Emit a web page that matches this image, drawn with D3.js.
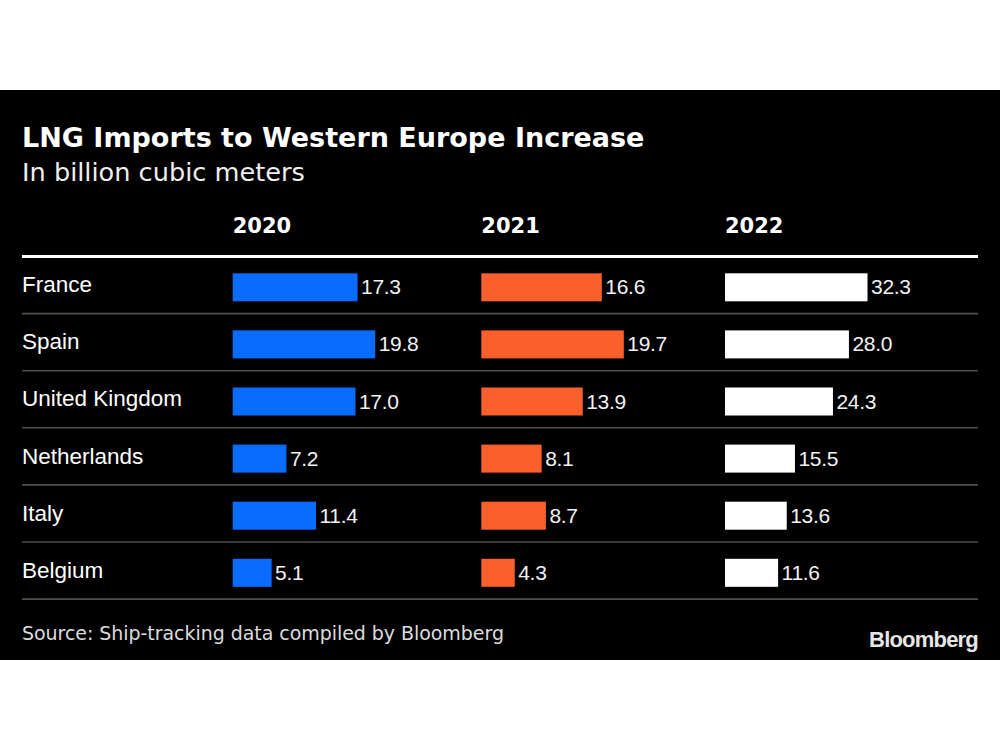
<!DOCTYPE html>
<html>
<head>
<meta charset="utf-8">
<script src="https://cdn.jsdelivr.net/npm/d3@7"></script>
<style>
  html, body { margin: 0; padding: 0; background: #fff; }
  svg { display: block; }
</style>
</head>
<body>
<svg id="chart" width="1000" height="750"></svg>
<script>
const countries = ["France", "Spain", "United Kingdom", "Netherlands", "Italy", "Belgium"];
const years = ["2020", "2021", "2022"];
const values2020 = [17.3, 19.8, 17.0, 7.2, 11.4, 5.1];
const values2021 = [16.6, 19.7, 13.9, 8.1, 8.7, 4.3];
const values2022 = [32.3, 28.0, 24.3, 15.5, 13.6, 11.6];
const seriesColors = ["#0a6cff", "#fa5f2c", "#ffffff"];
const title = "LNG Imports to Western Europe Increase";
const subtitle = "In billion cubic meters";
const source = "Source: Ship-tracking data compiled by Bloomberg";

const series = [values2020, values2021, values2022];

const svg = d3.select("#chart");
svg.append("rect").attr("x", 0).attr("y", 0).attr("width", 1000).attr("height", 750).attr("fill", "#fff");
svg.append("rect").attr("x", 0).attr("y", 90).attr("width", 1000).attr("height", 570).attr("fill", "#000");

svg.append("text").attr("x", 22).attr("y", 147)
  .attr("font-family", "'DejaVu Sans', Verdana, sans-serif").attr("font-weight", "bold")
  .attr("font-size", 27).attr("fill", "#fff").text(title);
svg.append("text").attr("x", 22).attr("y", 181)
  .attr("font-family", "'DejaVu Sans', Verdana, sans-serif")
  .attr("font-size", 25.6).attr("fill", "#eee").text(subtitle);

// columns
const colX = d3.scaleOrdinal().domain(years).range([232.7, 481.3, 725]);
const y = d3.scaleBand().domain(countries).range([256.5, 599.1]).padding(0);

svg.selectAll("text.year").data(years).join("text")
  .attr("class", "year")
  .attr("x", d => colX(d)).attr("y", 233)
  .attr("font-family", "'DejaVu Sans', Verdana, sans-serif").attr("font-weight", "bold")
  .attr("font-size", 21).attr("fill", "#fff").text(d => d);

// header line
svg.append("line").attr("x1", 22).attr("x2", 978).attr("y1", 256.5).attr("y2", 256.5)
  .attr("stroke", "#fff").attr("stroke-width", 3);

// row separators
svg.selectAll("line.sep").data(countries).join("line")
  .attr("class", "sep")
  .attr("x1", 22).attr("x2", 978)
  .attr("y1", d => y(d) + y.bandwidth()).attr("y2", d => y(d) + y.bandwidth())
  .attr("stroke", "#4e4e4e").attr("stroke-width", 1.6);

// country labels
svg.selectAll("text.country").data(countries).join("text")
  .attr("class", "country")
  .attr("x", 22).attr("y", d => y(d) + 35.7)
  .attr("font-family", "'Liberation Sans', Arial, sans-serif")
  .attr("font-size", 22.5).attr("fill", "#fff").text(d => d);

// bars per column
years.forEach((yr, i) => {
  const vals = series[i];
  const x = d3.scaleLinear().domain([0, d3.max(vals)]).range([3, 142.5]);
  const g = svg.append("g").attr("transform", `translate(${colX(yr)},0)`);
  const rows = countries.map((c, j) => ({ c, v: vals[j] }));
  g.selectAll("rect").data(rows).join("rect")
    .attr("x", 0).attr("y", d => y(d.c) + 16.8)
    .attr("width", d => x(d.v)).attr("height", 28)
    .attr("fill", seriesColors[i]);
  g.selectAll("text").data(rows).join("text")
    .attr("x", d => x(d.v) + 3.5).attr("y", d => y(d.c) + 37.8)
    .attr("font-family", "'Liberation Sans', Arial, sans-serif")
    .attr("font-size", 21).attr("letter-spacing", "-0.3").attr("fill", "#f2f2f2")
    .text(d => d.v.toFixed(1));
});

svg.append("text").attr("x", 22).attr("y", 639.5)
  .attr("font-family", "'DejaVu Sans', Verdana, sans-serif")
  .attr("font-size", 19).attr("letter-spacing", "-0.05").attr("fill", "#dcdcdc").text(source);

svg.append("text").attr("x", 978).attr("y", 646.7).attr("text-anchor", "end")
  .attr("font-family", "'Liberation Sans', Arial, sans-serif").attr("font-weight", "bold")
  .attr("font-size", 22).attr("letter-spacing", "-0.8").attr("fill", "#e6e6e6").text("Bloomberg");
</script>
</body>
</html>
